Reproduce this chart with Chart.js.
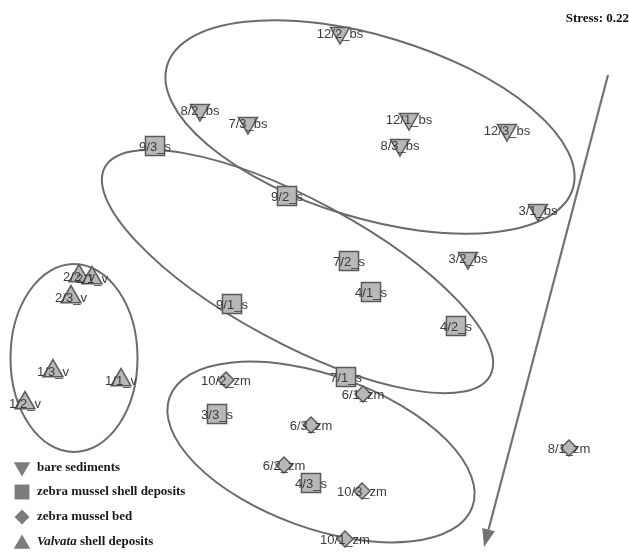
<!DOCTYPE html>
<html>
<head>
<meta charset="utf-8">
<script src="https://cdn.jsdelivr.net/npm/chart.js@4"></script>
<style>
  body { margin: 0; background: #fff; }
  canvas { display: block; }
</style>
</head>
<body>
<canvas id="nmdsChart" width="629" height="552"></canvas>
<script>
// ordination coordinates (same units as the hidden axes)
const bsNames = ["12/2_bs", "8/2_bs", "7/3_bs", "12/1_bs", "8/3_bs", "12/3_bs", "3/1_bs", "3/2_bs"];
const bsX = [340, 200, 248, 409, 400, 507, 538, 468];
const bsY = [33, 110, 123, 119, 145, 130, 210, 258];

const sNames = ["9/3_s", "9/2_s", "7/2_s", "4/1_s", "9/1_s", "4/2_s", "7/1_s", "3/3_s", "4/3_s"];
const sX = [155, 287, 349, 371, 232, 456, 346, 217, 311];
const sY = [146, 196, 261, 292, 304, 326, 377, 414, 483];

const zmNames = ["10/2_zm", "6/1_zm", "6/3_zm", "6/2_zm", "10/3_zm", "10/1_zm", "8/1_zm"];
const zmX = [226, 363, 311, 284, 362, 345, 569];
const zmY = [380, 394, 425, 465, 491, 539, 448];

const vNames = ["2/2_v", "2/1_v", "2/3_v", "1/3_v", "1/1_v", "1/2_v"];
const vX = [79, 92, 71, 53, 121, 25];
const vY = [276, 278, 297, 371, 380, 403];

const groupNames = ["bare sediments", "zebra mussel shell deposits", "zebra mussel bed", "Valvata shell deposits"];

// group ellipses: centre, semi axes, tilt (degrees)
const ellCx = [370, 297.5, 74, 321];
const ellCy = [127, 271.5, 358, 452];
const ellRx = [212, 219, 63.5, 161];
const ellRy = [91, 71.5, 94, 76.5];
const ellAngle = [16.9, 28.4, 0, 19.9];

const arrowFrom = [608, 75];
const arrowTo = [484, 547];
const stressText = "Stress: 0.22";

function pts(xs, ys, names) {
  return xs.map((x, i) => ({ x: x, y: ys[i], name: names[i] }));
}

const markFill = "#b8b8b8";
const markLine = "#5a5a5a";

const overlay = {
  id: "overlay",
  beforeDatasetsDraw(chart) {
    const ctx = chart.ctx;
    const xs = chart.scales.x, ys = chart.scales.y;
    ctx.save();
    ctx.strokeStyle = "#6b6b6b";
    ctx.lineWidth = 2;
    for (let i = 0; i < ellCx.length; i++) {
      const cx = xs.getPixelForValue(ellCx[i]);
      const cy = ys.getPixelForValue(ellCy[i]);
      const rx = Math.abs(xs.getPixelForValue(ellCx[i] + ellRx[i]) - cx);
      const ry = Math.abs(ys.getPixelForValue(ellCy[i] + ellRy[i]) - cy);
      ctx.beginPath();
      ctx.ellipse(cx, cy, rx, ry, ellAngle[i] * Math.PI / 180, 0, Math.PI * 2);
      ctx.stroke();
    }
    ctx.restore();
  },
  afterDatasetsDraw(chart) {
    const ctx = chart.ctx;
    const xs = chart.scales.x, ys = chart.scales.y;
    ctx.save();
    // sample labels
    ctx.font = "13px 'Liberation Sans', Arial, sans-serif";
    ctx.fillStyle = "#3c3c3c";
    ctx.textAlign = "center";
    ctx.textBaseline = "middle";
    chart.data.datasets.forEach(ds => {
      ds.data.forEach(p => {
        ctx.fillText(p.name, xs.getPixelForValue(p.x), ys.getPixelForValue(p.y) + 1);
      });
    });

    // gradient arrow
    const x0 = xs.getPixelForValue(arrowFrom[0]), y0 = ys.getPixelForValue(arrowFrom[1]);
    const x1 = xs.getPixelForValue(arrowTo[0]), y1 = ys.getPixelForValue(arrowTo[1]);
    const ang = Math.atan2(y1 - y0, x1 - x0);
    const headLen = 18, headW = 6.5;
    ctx.strokeStyle = "#727272";
    ctx.fillStyle = "#727272";
    ctx.lineWidth = 2.2;
    ctx.beginPath();
    ctx.moveTo(x0, y0);
    ctx.lineTo(x1 - Math.cos(ang) * headLen, y1 - Math.sin(ang) * headLen);
    ctx.stroke();
    ctx.beginPath();
    ctx.moveTo(x1, y1);
    ctx.lineTo(x1 - Math.cos(ang) * headLen + Math.sin(ang) * headW, y1 - Math.sin(ang) * headLen - Math.cos(ang) * headW);
    ctx.lineTo(x1 - Math.cos(ang) * headLen - Math.sin(ang) * headW, y1 - Math.sin(ang) * headLen + Math.cos(ang) * headW);
    ctx.closePath();
    ctx.fill();

    // stress value
    ctx.font = "bold 13px 'Liberation Serif', 'Times New Roman', serif";
    ctx.fillStyle = "#111";
    ctx.textAlign = "right";
    ctx.textBaseline = "alphabetic";
    ctx.fillText(stressText, 629, 22);

    // legend
    const rowY = [468, 492, 517, 542];
    const legendStyle = [
      { pointStyle: "triangle", rotation: 180, radius: 9.5 },
      { pointStyle: "rect", rotation: 0, radius: 10.5 },
      { pointStyle: "rectRot", rotation: 0, radius: 7.5 },
      { pointStyle: "triangle", rotation: 0, radius: 9.5 }
    ];
    ctx.fillStyle = "#7c7c7c";
    ctx.strokeStyle = "#7c7c7c";
    ctx.lineWidth = 0.5;
    legendStyle.forEach((st, i) => {
      Chart.helpers.drawPoint(ctx, st, 22, rowY[i] + (st.pointStyle === "triangle" ? (st.rotation ? -1 : 2) : 0));
    });
    ctx.fillStyle = "#1a1a1a";
    ctx.textAlign = "left";
    ctx.textBaseline = "middle";
    const serif = "'Liberation Serif', 'Times New Roman', serif";
    groupNames.forEach((g, i) => {
      if (g.startsWith("Valvata")) {
        ctx.font = "italic bold 13px " + serif;
        ctx.fillText("Valvata", 37, rowY[i]);
        const w = ctx.measureText("Valvata ").width;
        ctx.font = "bold 13px " + serif;
        ctx.fillText(g.slice(8), 37 + w, rowY[i]);
      } else {
        ctx.font = "bold 13px " + serif;
        ctx.fillText(g, 37, rowY[i]);
      }
    });
    ctx.restore();
  }
};

const chrt = document.getElementById("nmdsChart").getContext("2d");
const nmdsChart = new Chart(chrt, {
  type: "scatter",
  data: {
    datasets: [
      { label: groupNames[0], data: pts(bsX, bsY, bsNames), pointStyle: "triangle", rotation: 180, pointRadius: 11 },
      { label: groupNames[1], data: pts(sX, sY, sNames), pointStyle: "rect", pointRadius: 13.5 },
      { label: groupNames[2], data: pts(zmX, zmY, zmNames), pointStyle: "rectRot", pointRadius: 8 },
      { label: groupNames[3], data: pts(vX, vY, vNames), pointStyle: "triangle", pointRadius: 11.5 }
    ].map(ds => Object.assign(ds, {
      backgroundColor: markFill,
      borderColor: markLine,
      borderWidth: 1.5,
      pointHoverRadius: ds.pointRadius,
      clip: false
    }))
  },
  options: {
    responsive: false,
    animation: false,
    layout: { padding: 0, autoPadding: false },
    scales: {
      x: { type: "linear", min: 0, max: 629, display: false },
      y: { type: "linear", min: 0, max: 552, reverse: true, display: false }
    },
    plugins: {
      legend: { display: false },
      tooltip: { enabled: false }
    }
  },
  plugins: [overlay]
});
</script>
</body>
</html>
